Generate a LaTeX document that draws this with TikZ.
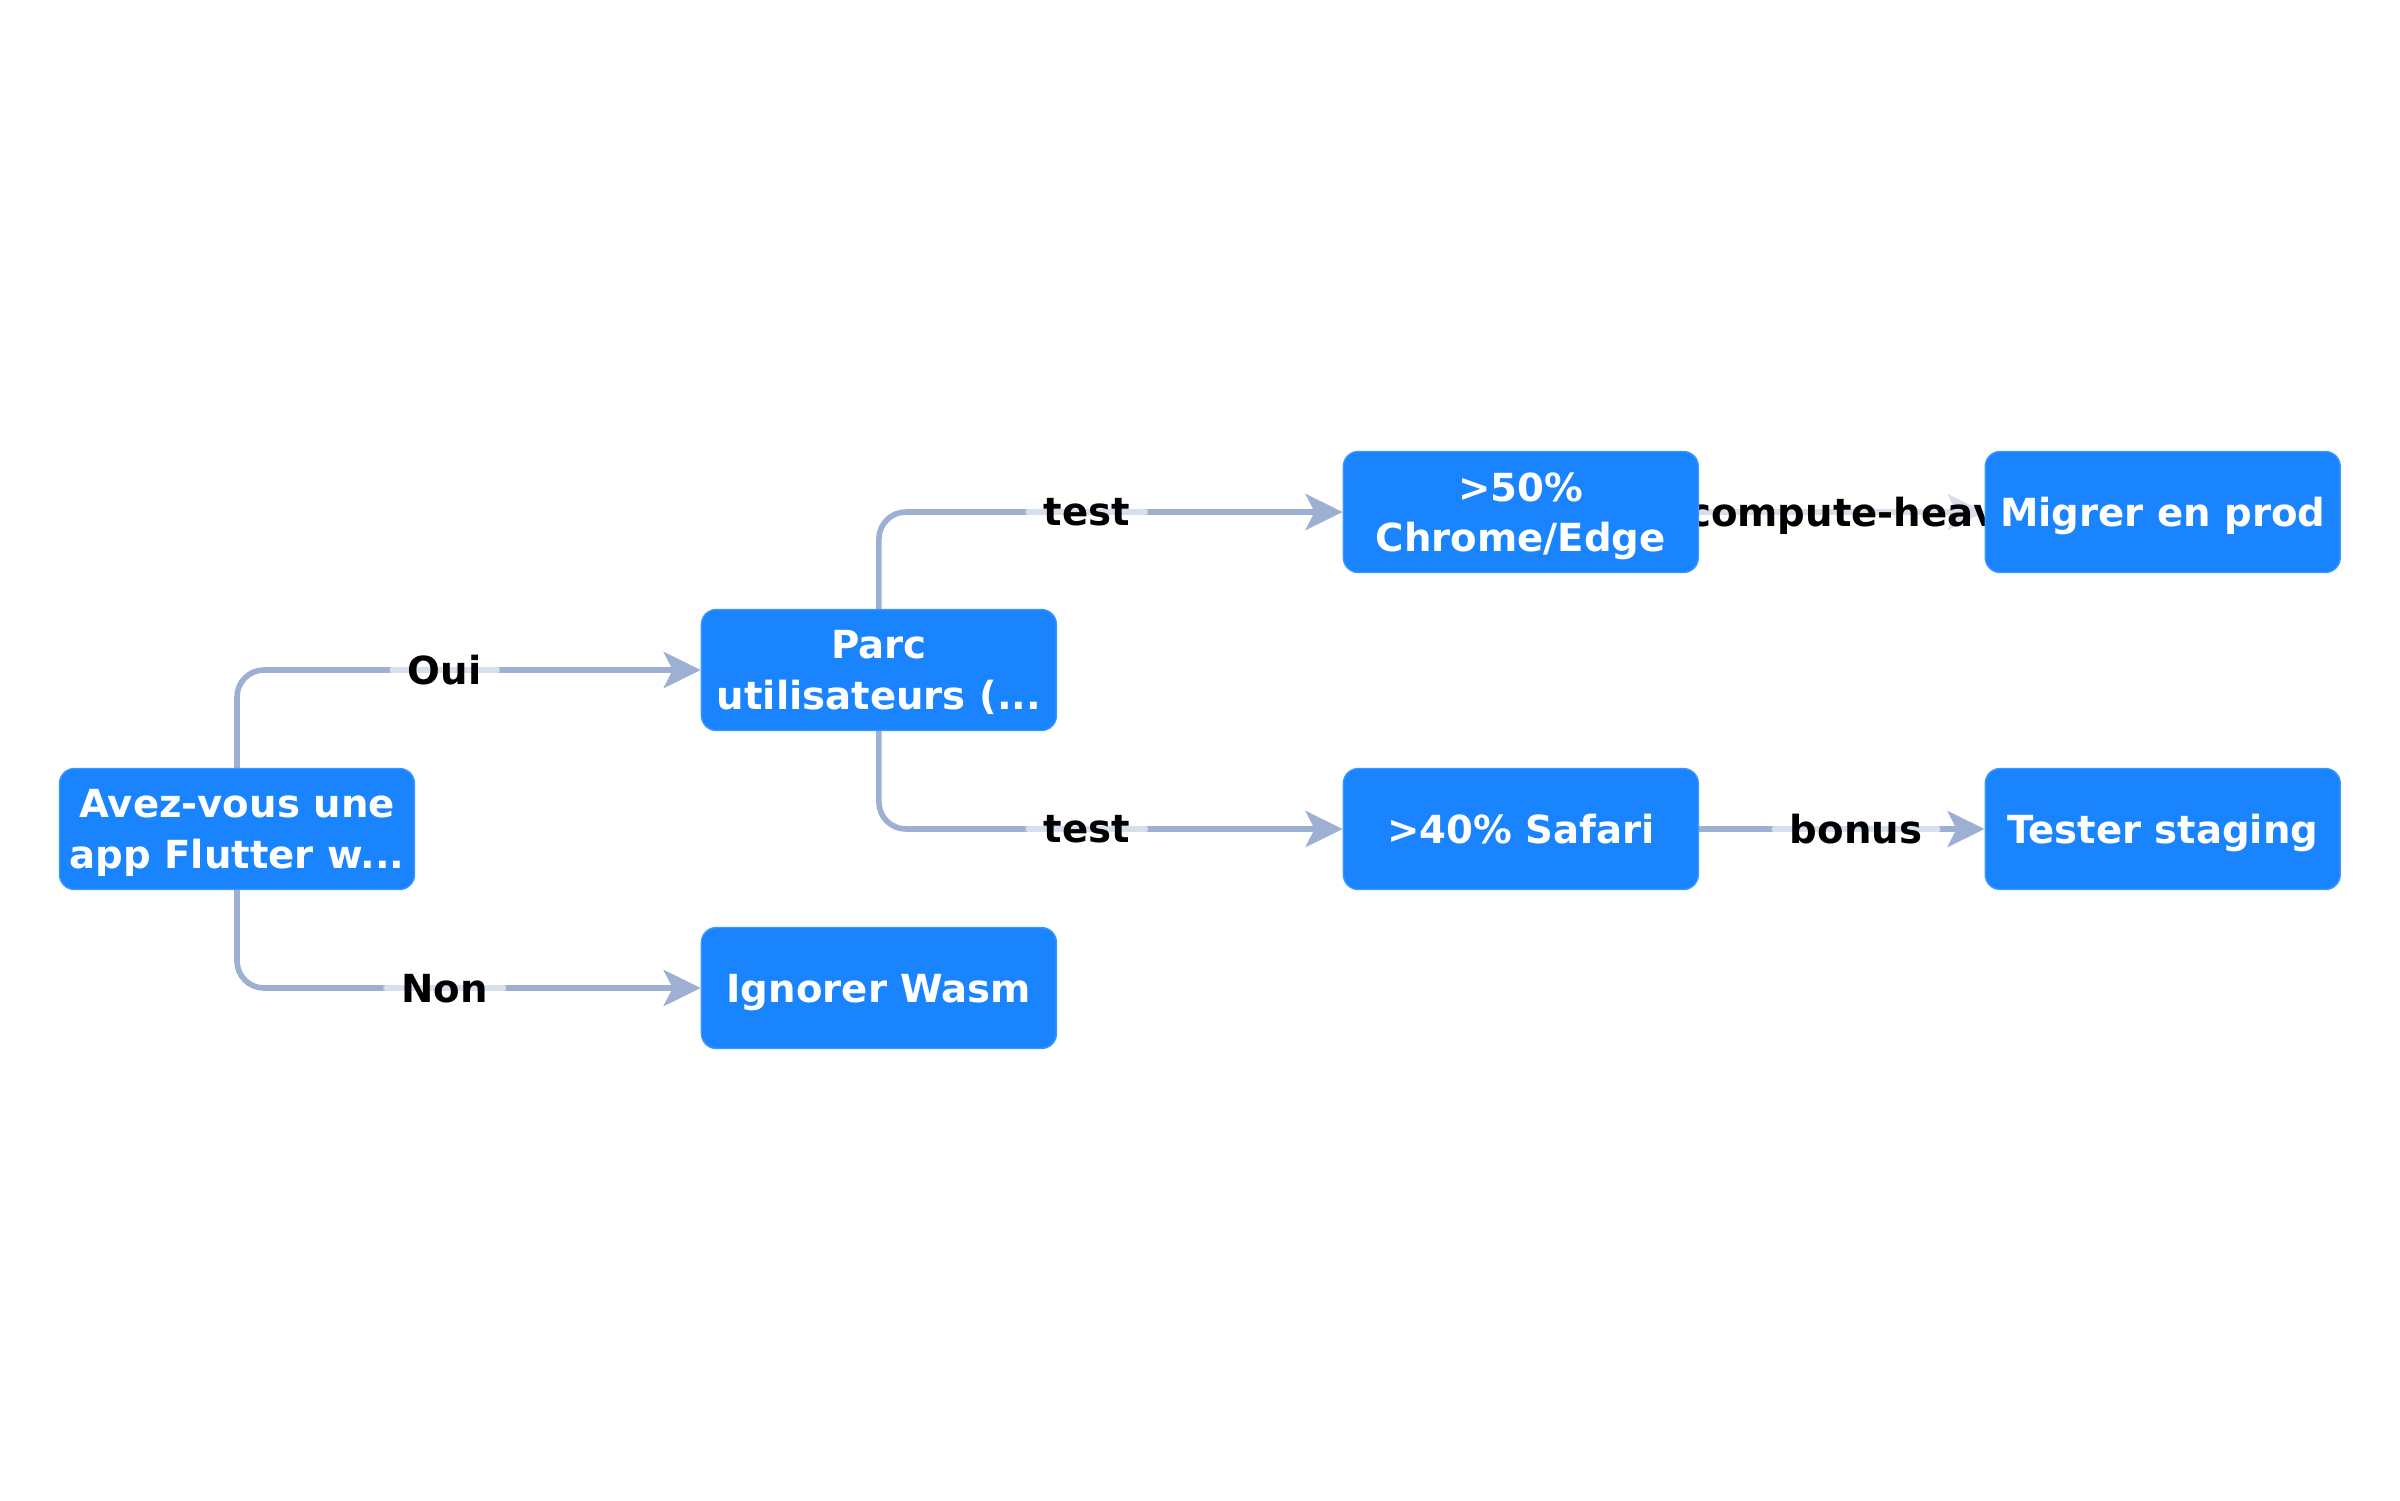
\documentclass[tikz,border=0pt]{standalone}
\usepackage{fontspec}
\setmainfont{DejaVu Sans}
\usetikzlibrary{arrows.meta, positioning, backgrounds}

\definecolor{boxblue}{HTML}{1A84FF}
\definecolor{linkgray}{HTML}{9DB0D3}

\tikzset{
	box/.style={draw=boxblue!85!white, line width=0.4pt, fill=boxblue, rounded corners=0.15cm,
		minimum width=3.55cm, minimum height=1.21cm, inner sep=0pt, align=center, text depth=0pt,
		text=white, font=\fontsize{11}{14.4}\selectfont\bfseries},
	link/.style={draw=linkgray, line width=1.6pt, rounded corners=0.27cm,
		-{Stealth[length=3.7mm, width=3.6mm, inset=0.9mm]}},
	lbl/.style={fill=white, fill opacity=0.6, text opacity=1, text=black, text depth=0pt,
		inner xsep=1.8mm, inner ysep=0.8mm, font=\fontsize{11}{14.4}\selectfont\bfseries}
}

\begin{document}
\begin{tikzpicture}[node distance=2.855cm]
	\useasboundingbox (-2.37,-6.71) rectangle (21.63,8.29);
	\node[box] (avez) {Avez-vous une\\app Flutter w...};
	\node[box, right=of avez, yshift=1.59cm] (parc) {Parc\\utilisateurs (...};
	\node[box, right=of avez, yshift=-1.59cm] (ignorer) {Ignorer Wasm};
	\node[box, right=of parc, yshift=1.58cm] (chrome) {>50\%\\Chrome/Edge};
	\node[box, right=of parc, yshift=-1.59cm] (safari) {>40\% Safari};
	\node[box, right=of chrome] (migrer) {Migrer en prod};
	\node[box, right=of safari] (tester) {Tester staging};
	% liens sous les boites
	\begin{scope}[on background layer]
		\draw[link] (avez.north) |- (parc.west) node[lbl, pos=0.724] {Oui};
		\draw[link] (avez.south) |- (ignorer.west) node[lbl, pos=0.724] {Non};
		\draw[link] (parc.north) |- (chrome.west) node[lbl, pos=0.724] {test};
		\draw[link] (parc.south) |- (safari.west) node[lbl, pos=0.724] {test};
		\draw[link] (chrome) -- (migrer) node[lbl, pos=0.55] {compute-heavy};
		\draw[link] (safari) -- (tester) node[lbl, pos=0.55] {bonus};
	\end{scope}
\end{tikzpicture}
\end{document}
